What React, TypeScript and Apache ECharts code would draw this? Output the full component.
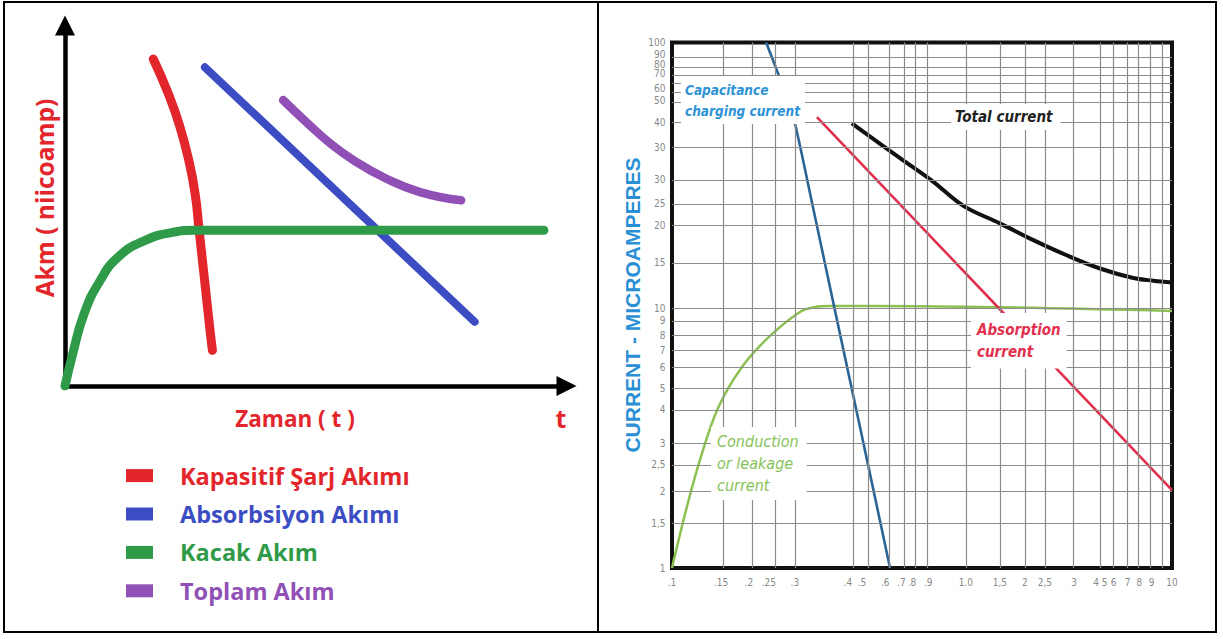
import React, { useEffect, useRef } from "react";
import * as echarts from "echarts";

// ---------- Left panel: schematic, relative units (time 0-100, current 0-100) ----------
const LEFT_SERIES_NAMES = ["Kapasitif Şarj Akımı", "Absorbsiyon Akımı", "Kacak Akım", "Toplam Akım"];
const CAP_CHARGE_TR: number[][] = [
  [17.6, 90.7], [20.6, 81.1], [22.9, 72.0], [24.8, 61.9], [26.0, 52.8],
  [26.7, 43.8], [27.5, 33.6], [28.3, 23.4], [29.0, 14.4], [29.4, 9.9],
];
const ABSORPTION_TR: number[][] = [[27.9, 88.4], [81.7, 17.8]];
const LEAKAGE_TR: number[][] = [
  [0, 0], [1.5, 8.7], [3.8, 20.0], [6.9, 29.0], [10.7, 35.9], [16.0, 40.4],
  [21.4, 42.6], [26.0, 43.2], [95.5, 43.2],
];
const TOTAL_TR: number[][] = [
  [43.5, 79.3], [47.9, 73.5], [52.8, 67.4], [57.8, 62.4], [63.8, 57.7], [70.8, 53.8], [79.0, 51.5],
];

// ---------- Right panel: log-log, time (minutes) vs current (microamperes) ----------
const CAPACITANCE_EN: number[][] = [
  [0.238, 100], [0.283, 64.8], [0.31, 49.4], [0.3685, 23.0], [0.444, 10.0],
  [0.525, 4.76], [0.627, 2.16], [0.745, 1],
];
const ABSORPTION_EN: number[][] = [[0.38, 52], [2.15, 9.2], [10, 1.98]];
const CONDUCTION_EN: number[][] = [
  [0.1, 1], [0.1138, 1.66], [0.1294, 2.58], [0.1528, 4.06], [0.1905, 5.82],
  [0.2466, 7.64], [0.3251, 9.43], [0.3733, 9.85], [0.43, 9.93], [0.982, 9.91], [10, 9.51],
];
const TOTAL_EN: number[][] = [
  [0.524, 49.2], [0.817, 36.3], [1.11, 29.5], [1.463, 23.9], [2.05, 20.5],
  [2.79, 17.7], [3.79, 15.5], [5.15, 13.8], [7.0, 12.7], [8.42, 12.4], [10, 12.2],
];

// printed tick labels and where (in axis units) the original chart printed them
const X_TICK_LABELS = [".1", ".15", ".2", ".25", ".3", ".4", ".5", ".6", ".7", ".8", ".9", "1.0", "1,5", "2", "2,5", "3", "4", "5", "6", "7", "8", "9", "10"];
const X_TICK_AT = [0.1, 0.157, 0.203, 0.244, 0.31, 0.505, 0.575, 0.713, 0.827, 0.912, 1.059, 1.497, 2.05, 2.58, 3.1, 4.06, 4.97, 5.37, 5.84, 6.64, 7.41, 8.28, 10];
const Y_TICK_LABELS = ["1", "1,5", "2", "2,5", "3", "4", "5", "6", "7", "8", "9", "10", "15", "20", "25", "30", "30", "40", "50", "60", "70", "80", "90", "100"];
const Y_TICK_AT = [1, 1.48, 1.96, 2.47, 2.98, 4.01, 4.84, 5.82, 6.7, 7.7, 8.75, 9.76, 14.5, 20.1, 24.4, 30.0, 39.8, 49.4, 60.4, 67.1, 75.9, 82.8, 90.4, 100];
// grid lines of the printed graph paper (axis units)
const X_GRID_AT = [0.157, 0.211, 0.258, 0.31, 0.525, 0.608, 0.745, 0.847, 0.938, 1.05, 1.51, 2.05, 2.58, 3.1, 4.02, 5.15, 5.81, 6.61, 7.31, 8.17, 9.12];
const Y_GRID_AT = [1.48, 1.96, 2.47, 2.99, 3.99, 4.84, 5.82, 6.76, 7.7, 8.67, 9.76, 14.5, 20.2, 24.3, 30.0, 39.8, 49.8, 59.4, 64.8, 70.1, 75.2, 80.7, 88.1];

const RED_TR = "#e3262c";
const BLUE_TR = "#3c4dc4";
const GREEN_TR = "#2f9b49";
const PURPLE_TR = "#9050b6";
const SANS = "'Open Sans', 'Noto Sans', sans-serif";
const NARROW = "'Liberation Sans Narrow', 'Arial Narrow', 'DejaVu Sans Condensed', sans-serif";

function leftLine(name: string, data: number[][], color: string, width: number, smooth: number) {
  return {
    name,
    type: "line",
    xAxisIndex: 0,
    yAxisIndex: 0,
    data,
    smooth: smooth > 0 ? smooth : false,
    showSymbol: false,
    symbol: "none",
    silent: true,
    z: 3,
    itemStyle: { color },
    lineStyle: { color, width, cap: "round", join: "round" },
  };
}

function rightLine(name: string, data: number[][], color: string, width: number, smooth: number) {
  return {
    name,
    type: "line",
    xAxisIndex: 1,
    yAxisIndex: 1,
    data,
    smooth: smooth > 0 ? smooth : false,
    showSymbol: false,
    symbol: "none",
    silent: true,
    z: 3,
    itemStyle: { color },
    lineStyle: { color, width, cap: "butt", join: "round" },
  };
}

function note(text: string, x: number, y: number, color: string, weight: string, size: number, lh: number, padding: number[]) {
  return {
    type: "text",
    x,
    y,
    z: 50,
    silent: true,
    style: {
      text,
      fill: color,
      fontFamily: NARROW,
      fontSize: size,
      fontWeight: weight,
      fontStyle: "italic",
      lineHeight: lh,
      align: "left",
      verticalAlign: "top",
      backgroundColor: "#ffffff",
      padding,
    },
  };
}

export default function App() {
  const ref = useRef<HTMLDivElement>(null);
  useEffect(() => {
    if (!ref.current) return;
    const chart = echarts.init(ref.current, null, { renderer: "svg" });
    const arrowAxis = (show: boolean) => ({
      show,
      lineStyle: { color: "#000", width: 4.5 },
      symbol: ["none", "triangle"],
      symbolSize: [20, 20],
    });
    const option: any = {
      animation: false,
      backgroundColor: "#ffffff",
      grid: [
        { left: 65, top: 25.5, width: 501.5, height: 360.5 },
        { left: 672, top: 42.5, width: 500, height: 525.5, show: true, borderColor: "#111", borderWidth: 4, backgroundColor: "transparent" },
      ],
      xAxis: [
        { type: "value", gridIndex: 0, min: 0, max: 100, axisLine: arrowAxis(true), axisTick: { show: false }, axisLabel: { show: false }, splitLine: { show: false } },
        { type: "log", logBase: 10, gridIndex: 1, min: 0.1, max: 10, axisLine: { show: false }, axisTick: { show: false }, axisLabel: { show: false }, splitLine: { show: false } },
      ],
      yAxis: [
        { type: "value", gridIndex: 0, min: 0, max: 100, axisLine: arrowAxis(true), axisTick: { show: false }, axisLabel: { show: false }, splitLine: { show: false } },
        { type: "log", logBase: 10, gridIndex: 1, min: 1, max: 100, axisLine: { show: false }, axisTick: { show: false }, axisLabel: { show: false }, splitLine: { show: false } },
      ],
      legend: {
        orient: "vertical",
        left: 126,
        top: 463.6,
        padding: 0,
        itemWidth: 27,
        itemHeight: 13,
        itemGap: 14.4,
        icon: "rect",
        selectedMode: false,
        textStyle: { fontFamily: SANS, fontWeight: "bold", fontSize: 23.5, lineHeight: 24, padding: [0, 0, 0, 22] },
        data: [
          { name: LEFT_SERIES_NAMES[0], textStyle: { color: RED_TR } },
          { name: LEFT_SERIES_NAMES[1], textStyle: { color: BLUE_TR } },
          { name: LEFT_SERIES_NAMES[2], textStyle: { color: GREEN_TR } },
          { name: LEFT_SERIES_NAMES[3], textStyle: { color: PURPLE_TR } },
        ],
      },
      series: [
        leftLine(LEFT_SERIES_NAMES[0], CAP_CHARGE_TR, RED_TR, 9, 0.5),
        leftLine(LEFT_SERIES_NAMES[1], ABSORPTION_TR, BLUE_TR, 8, 0),
        leftLine(LEFT_SERIES_NAMES[2], LEAKAGE_TR, GREEN_TR, 9, 0.5),
        leftLine(LEFT_SERIES_NAMES[3], TOTAL_TR, PURPLE_TR, 8.5, 0.5),
        {
          name: "grid",
          type: "line",
          xAxisIndex: 1,
          yAxisIndex: 1,
          data: [[0.1, 1]],
          showSymbol: false,
          symbol: "none",
          silent: true,
          z: 1,
          lineStyle: { opacity: 0 },
          markLine: {
            silent: true,
            symbol: ["none", "none"],
            animation: false,
            label: { show: false },
            lineStyle: { color: "#8c8c8c", width: 1.2, type: "solid" },
            data: [
              ...X_GRID_AT.map((v) => ({ xAxis: v })),
              ...Y_GRID_AT.map((v) => ({ yAxis: v })),
            ],
          },
        },
        {
          name: "xticks",
          type: "scatter",
          xAxisIndex: 1,
          yAxisIndex: 1,
          symbolSize: 1,
          silent: true,
          clip: false,
          itemStyle: { color: "rgba(0,0,0,0)" },
          data: X_TICK_AT.map((v, i) => ({ name: X_TICK_LABELS[i], value: [v, 1] })),
          label: { show: true, position: "bottom", distance: 9, formatter: "{b}", color: "#666666", fontSize: 10, fontFamily: NARROW },
        },
        {
          name: "yticks",
          type: "scatter",
          xAxisIndex: 1,
          yAxisIndex: 1,
          symbolSize: 1,
          silent: true,
          clip: false,
          itemStyle: { color: "rgba(0,0,0,0)" },
          data: Y_TICK_AT.map((v, i) => ({ name: Y_TICK_LABELS[i], value: [0.1, v] })),
          label: { show: true, position: "left", distance: 6, formatter: "{b}", color: "#666666", fontSize: 10, fontFamily: NARROW },
        },
        rightLine("Conduction or leakage current", CONDUCTION_EN, "#8cc152", 2.5, 0.35),
        rightLine("Capacitance charging current", CAPACITANCE_EN, "#2a6496", 2.6, 0.25),
        rightLine("Absorption current", ABSORPTION_EN, "#e0304e", 2.6, 0),
        rightLine("Total current", TOTAL_EN, "#111111", 4, 0.35),
      ],
      graphic: [
        { type: "rect", z: 60, silent: true, shape: { x: 4, y: 2, width: 1212, height: 630 }, style: { fill: "none", stroke: "#000", lineWidth: 2 } },
        { type: "line", z: 60, silent: true, shape: { x1: 598, y1: 2, x2: 598, y2: 632 }, style: { stroke: "#000", lineWidth: 2 } },
        {
          type: "text", x: 44, y: 198, rotation: Math.PI / 2, z: 50, silent: true,
          style: { text: "Akm ( niicoamp)", fill: RED_TR, fontFamily: SANS, fontWeight: "bold", fontSize: 24.5, align: "center", verticalAlign: "middle" },
        },
        {
          type: "text", x: 295, y: 418, z: 50, silent: true,
          style: { text: "Zaman ( t )", fill: RED_TR, fontFamily: SANS, fontWeight: "bold", fontSize: 22.5, align: "center", verticalAlign: "middle" },
        },
        {
          type: "text", x: 561, y: 418, z: 50, silent: true,
          style: { text: "t", fill: RED_TR, fontFamily: SANS, fontWeight: "bold", fontSize: 25, align: "center", verticalAlign: "middle" },
        },
        {
          type: "text", x: 632, y: 305, rotation: Math.PI / 2, z: 50, silent: true,
          style: { text: "CURRENT - MICROAMPERES", fill: "#2a8fd4", fontFamily: "'Liberation Sans', Arial, sans-serif", fontWeight: "bold", fontSize: 21, align: "center", verticalAlign: "middle" },
        },
        note("Capacitance\ncharging current", 681, 76, "#2e93d6", "bold", 13.5, 21.5, [3, 5, 2, 4]),
        note("Total current", 951, 104, "#222222", "bold", 15, 20, [3, 8, 3, 4]),
        note("Absorption\ncurrent", 971, 313, "#e3304e", "bold", 15, 21.7, [6, 6, 6, 6]),
        note("Conduction\nor leakage\ncurrent", 711, 427, "#86c25a", "normal", 16, 21.7, [4, 8, 4, 6]),
      ],
    };
    chart.setOption(option);
    return () => chart.dispose();
  }, []);
  return (
    <div
      ref={ref}
      style={{ position: "fixed", left: 0, top: 0, width: 1223, height: 639, background: "#fff" }}
    />
  );
}
